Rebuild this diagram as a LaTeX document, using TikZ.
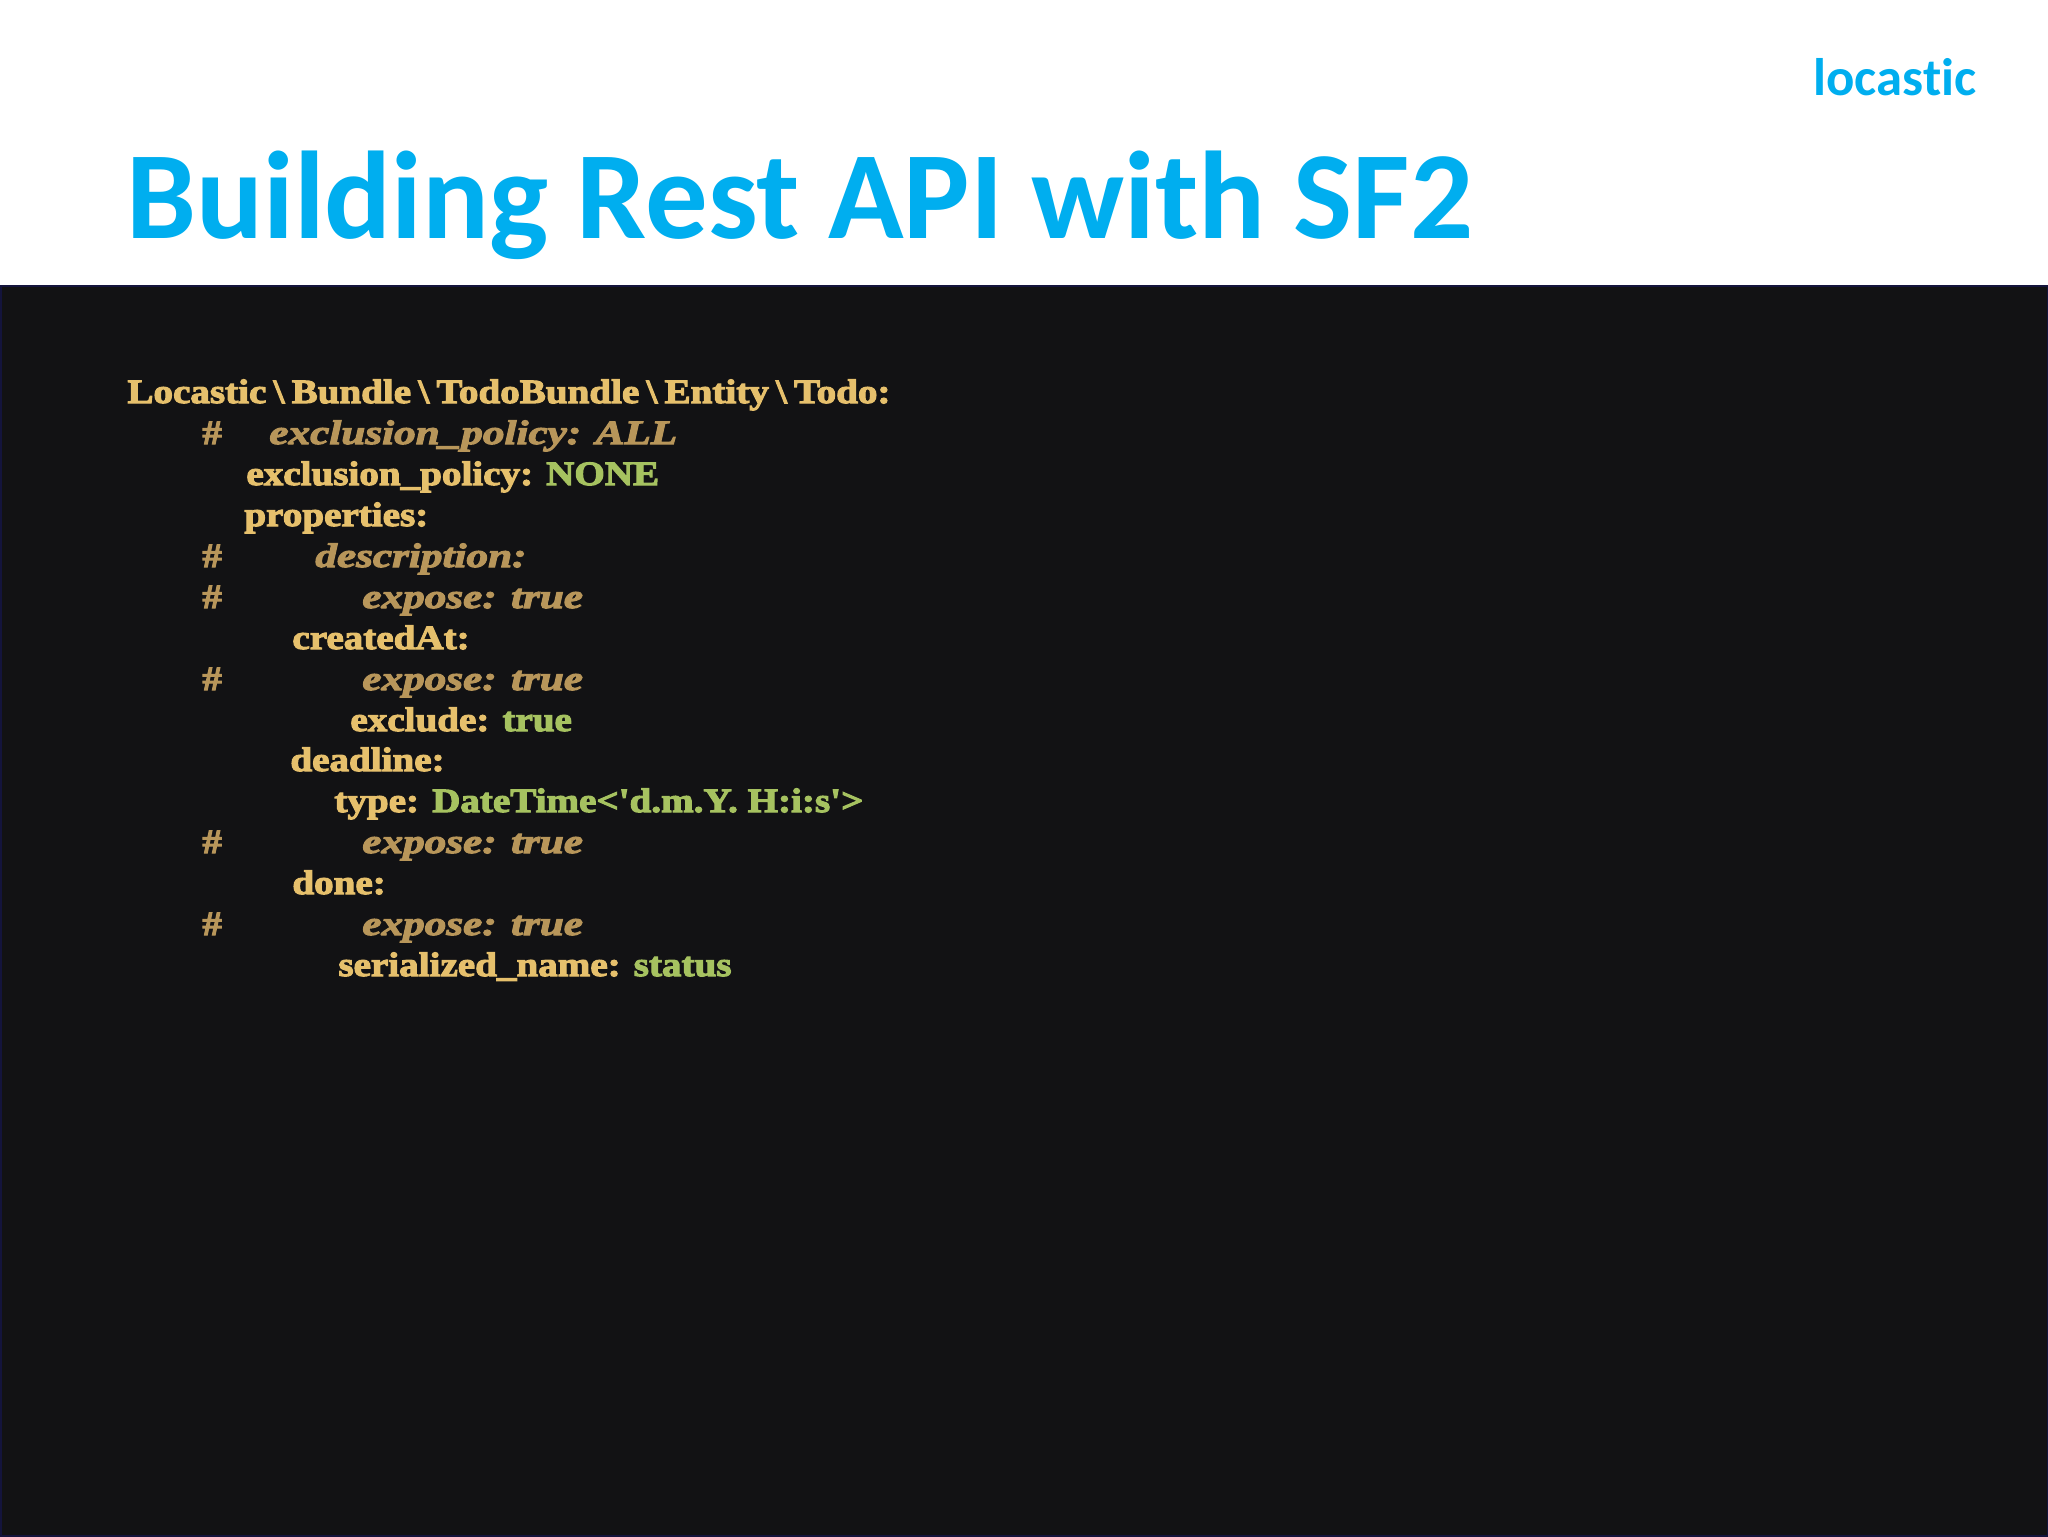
\documentclass[tikz,border=0pt]{standalone}
\usepackage{fontspec}
\setmainfont{Carlito}
\newfontfamily\codefont[FakeBold=3.2,FakeStretch=1.15]{Liberation Serif}
\newfontfamily\shadefont[FakeBold=3.2,FakeStretch=1.27]{Liberation Serif}
\definecolor{titleblue}{HTML}{00AEEF}
\definecolor{slidedark}{HTML}{121214}
\definecolor{slideedge}{HTML}{14143C}
\definecolor{codegold}{HTML}{E6C06C}
\definecolor{codeshade}{HTML}{B8965A}
\definecolor{codegreen}{HTML}{A6C260}
\tikzset{
	codeline/.style={anchor=base west, inner sep=0pt, text=codegold, font=\codefont\bfseries\fontsize{17}{20}\selectfont},
	shadeline/.style={codeline, text=codeshade, font=\shadefont\bfseries\itshape\fontsize{17}{20}\selectfont},
	hashmark/.style={codeline, text=codeshade}
}
\newcommand{\val}[1]{\textcolor{codegreen}{#1}}
\newcommand{\bslash}{\kern3.6pt\textbackslash\kern3.6pt}
\begin{document}
\begin{tikzpicture}[x=0.5pt, y=-0.5pt]
	\useasboundingbox (0,0) rectangle (2048,1536);
	\fill[white] (0,0) rectangle (2048,286);
	\draw[fill=slidedark, draw=slideedge, line width=1pt] (0.5,286) rectangle (2047.5,1535.5);

	\node[anchor=base west, inner sep=0pt, text=titleblue, font=\bfseries\fontsize{62.4}{66}\selectfont] (title) at (126, 238) {Building Rest API with SF2};
	\node[anchor=base west, inner sep=0pt, text=titleblue, font=\bfseries\fontsize{26.4}{30}\selectfont] (logo) at (1813, 96) {locast\kern0pt ic};

	\node[codeline] (classname) at (127, 403) {Locastic\bslash Bundle\bslash TodoBundle\bslash Entity\bslash Todo:};
	\node[hashmark] (hashA) at (202, 444) {\#};
	\node[shadeline] (policyold) at (269, 444) {exclusion\_policy: ALL};
	\node[codeline] (policy) at (246, 485) {exclusion\_policy: \val{NONE}};
	\node[codeline] (properties) at (244, 526) {properties:};
	\node[hashmark] (hashB) at (202, 567) {\#};
	\node[shadeline] (description) at (315, 567) {description:};
	\node[hashmark] (hashC) at (202, 608) {\#};
	\node[shadeline] (exposeA) at (362, 608) {expose: true};
	\node[codeline] (created) at (292, 649) {createdAt:};
	\node[hashmark] (hashD) at (202, 690) {\#};
	\node[shadeline] (exposeB) at (362, 690) {expose: true};
	\node[codeline] (exclude) at (350, 731) {exclude: \val{true}};
	\node[codeline] (deadline) at (290, 771) {deadline:};
	\node[codeline] (type) at (334, 812) {type: \val{DateTime<'d.m.Y. H:i:s'>}};
	\node[hashmark] (hashE) at (202, 853) {\#};
	\node[shadeline] (exposeC) at (362, 853) {expose: true};
	\node[codeline] (done) at (292, 894) {done:};
	\node[hashmark] (hashF) at (202, 935) {\#};
	\node[shadeline] (exposeD) at (362, 935) {expose: true};
	\node[codeline] (serialized) at (338, 976) {serialized\_name: \val{status}};
\end{tikzpicture}
\end{document}
